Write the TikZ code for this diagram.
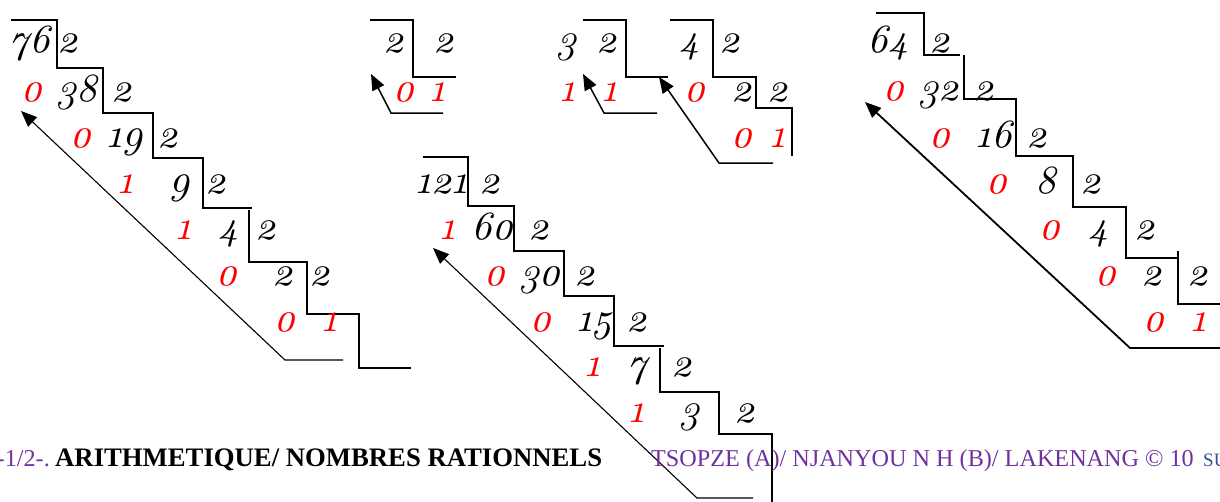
\documentclass[tikz,border=0pt]{standalone}
\usepackage{fontspec}
\setmainfont{Liberation Serif}
\newfontfamily\numfont{lmroman10-italic.otf}[Numbers=OldStyle]
\usetikzlibrary{arrows.meta}
\definecolor{purp}{RGB}{112,48,160}
\definecolor{sublue}{RGB}{47,84,150}
\tikzset{
  num/.style={font=\numfont\fontsize{40}{44}\selectfont, anchor=base, inner sep=0pt},
  rem/.style={num, text=red},
  stair/.style={line width=2pt, line cap=butt, line join=miter},
  arr/.style={line width=1.1pt, -{Triangle[length=16pt,width=13pt]}},
  arrb/.style={arr, line width=1.8pt},
  foot/.style={font=\fontsize{24.2}{28}\selectfont, anchor=base west, inner sep=0pt}
}
\newcommand\bk[4]{\node[num] (#1) at (#2,-#3) {#4};}
\newcommand\rd[4]{\node[rem] (#1) at (#2,-#3) {#4};}
\begin{document}
\begin{tikzpicture}[x=1pt,y=1pt]
\useasboundingbox (0,0) rectangle (1220,-501);
% ---------- 76 ----------
\draw[stair] (11,-20) -- (57,-20) -- (57,-68) -- (103,-68) -- (103,-113) -- (153,-113) -- (153,-158) -- (203,-158) -- (203,-208) -- (252,-208);
\draw[stair] (249,-210) -- (249,-262) -- (307,-262) -- (307,-314) -- (359,-314) -- (359,-368) -- (411,-368);
\bk{a0}{30}{52}{76} \bk{a0d}{68}{52}{2}
\rd{a1r}{32}{101}{0} \bk{a1}{77}{101}{38} \bk{a1d}{122}{101}{2}
\rd{a2r}{81}{147}{0} \bk{a2}{125}{147}{19} \bk{a2d}{168}{147}{2}
\rd{a3r}{126}{193}{1} \bk{a3}{180}{193}{9} \bk{a3d}{216}{193}{2}
\rd{a4r}{184}{239}{1} \bk{a4}{229}{239}{4} \bk{a4d}{266}{239}{2}
\rd{a5r}{227}{285}{0} \bk{a5}{283}{285}{2} \bk{a5d}{320}{285}{2}
\rd{a6r}{285}{331}{0} \rd{a6}{330}{331}{1}
\coordinate (as) at (343,-360); \coordinate (ac) at (285,-360); \coordinate (at) at (21,-111);
\draw[arr] (as) -- (ac) -- (at);
% ---------- 2 ----------
\draw[stair] (370,-20) -- (413,-20) -- (413,-77) -- (456,-77);
\bk{b0}{394}{52}{2} \bk{b0d}{444}{52}{2}
\rd{b1r}{404}{101}{0} \rd{b1}{438}{101}{1}
\coordinate (bs) at (443,-113); \coordinate (bc) at (391,-113); \coordinate (bt) at (371,-74);
\draw[arr, line width=1.5pt] (bs) -- (bc) -- (bt);
% ---------- 3 ----------
\draw[stair] (583,-20) -- (626,-20) -- (626,-77) -- (668,-77);
\bk{c0}{567}{52}{3} \bk{c0d}{607}{52}{2}
\rd{c1r}{568}{101}{1} \rd{c1}{610}{101}{1}
\coordinate (cs) at (657,-113); \coordinate (cc) at (604,-113); \coordinate (ct) at (583,-74);
\draw[arr, line width=1.5pt] (cs) -- (cc) -- (ct);
% ---------- 4 ----------
\draw[stair] (670,-20) -- (713,-20) -- (713,-77) -- (756,-77) -- (756,-108) -- (792,-108) -- (792,-156);
\bk{d0}{690}{52}{4} \bk{d0d}{730}{52}{2}
\rd{d1r}{695}{101}{0} \bk{d1}{742}{101}{2} \bk{d1d}{778}{101}{2}
\rd{d2r}{742}{147}{0} \rd{d2}{778}{147}{1}
\coordinate (ds) at (773,-163); \coordinate (dc) at (719,-163); \coordinate (dt) at (659,-77);
\draw[arr, line width=1.5pt] (ds) -- (dc) -- (dt);
% ---------- 64 ----------
\draw[stair] (876,-13) -- (924,-13) -- (924,-55) -- (960,-55);
\draw[stair] (964,-55) -- (964,-99) -- (1016,-99) -- (1016,-156) -- (1073,-156) -- (1073,-207) -- (1126,-207) -- (1126,-258) -- (1178,-258);
\draw[stair] (1178,-251) -- (1178,-304) -- (1222,-304);
\bk{e0}{888}{52}{64} \bk{e0d}{940}{52}{2}
\rd{e1r}{894}{100}{0} \bk{e1}{939}{100}{32} \bk{e1d}{984}{100}{2}
\rd{e2r}{940}{147}{0} \bk{e2}{994}{147}{16} \bk{e2d}{1037}{147}{2}
\rd{e3r}{997}{193}{0} \bk{e3}{1046}{193}{8} \bk{e3d}{1091}{193}{2}
\rd{e4r}{1050}{239}{0} \bk{e4}{1099}{239}{4} \bk{e4d}{1145}{239}{2}
\rd{e5r}{1106}{285}{0} \bk{e5}{1152}{285}{2} \bk{e5d}{1198}{285}{2}
\rd{e6r}{1154}{331}{0} \rd{e6}{1199}{331}{1}
\coordinate (es) at (1222,-348); \coordinate (ec) at (1130,-348); \coordinate (et) at (865,-102);
\draw[arrb] (es) -- (ec) -- (et);
% ---------- 121 ----------
\draw[stair] (423,-157) -- (468,-157) -- (468,-206) -- (514,-206) -- (514,-251) -- (564,-251) -- (564,-296) -- (614,-296) -- (614,-346) -- (664,-346);
\draw[stair] (660,-348) -- (660,-392) -- (719,-392) -- (719,-434) -- (772,-434) -- (772,-503);
\bk{f0}{442}{193}{121} \bk{f0d}{490}{193}{2}
\rd{f1r}{448}{239}{1} \bk{f1}{492}{239}{60} \bk{f1d}{539}{239}{2}
\rd{f2r}{495}{285}{0} \bk{f2}{540}{285}{30} \bk{f2d}{585}{285}{2}
\rd{f3r}{541}{331}{0} \bk{f3}{595}{331}{15} \bk{f3d}{637}{331}{2}
\rd{f4r}{593}{376}{1} \bk{f4}{637}{376}{7} \bk{f4d}{682}{376}{2}
\rd{f5r}{637}{422}{1} \bk{f5}{690}{422}{3} \bk{f5d}{745}{422}{2}
\coordinate (fs) at (753,-498); \coordinate (fc) at (697,-498); \coordinate (ft) at (433,-248);
\draw[arr] (fs) -- (fc) -- (ft);
% ---------- footer ----------
\node[foot, anchor=base east, text=purp] (p1) at (50,-466) {-1/2-.};
\node[foot, font=\bfseries\fontsize{26.7}{30}\selectfont] (p2) at (55,-466) {ARITHMETIQUE/ NOMBRES RATIONNELS};
\node[foot, text=purp] (p3) at (651,-466) {TSOPZE (A)/ NJANYOU N H (B)/ LAKENANG © 10};
\node[foot, text=sublue, font=\fontsize{19}{22}\selectfont] (p4) at (1203,-466) {SU};
\end{tikzpicture}
\end{document}
